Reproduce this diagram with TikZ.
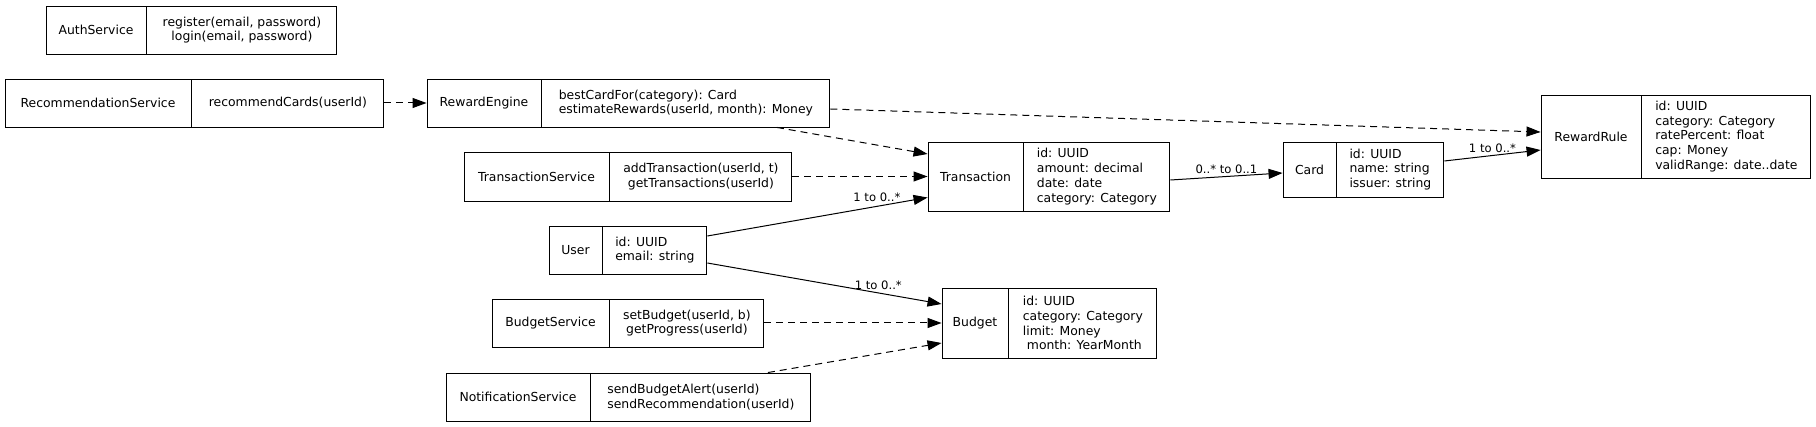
\documentclass[tikz,border=0pt]{standalone}
\usepackage{fontspec}
\setmainfont{DejaVu Sans}
\usetikzlibrary{positioning,arrows.meta}

\begin{document}
\begin{tikzpicture}[x=1pt, y=-1pt,
    cell/.style={draw, line width=0.9pt, inner sep=2pt, font=\fontsize{12.4}{14.8}\selectfont},
    cellc/.style={cell, align=center},
    celll/.style={cell, align=left},
    dep/.style={line width=1pt, dash pattern=on 7pt off 5pt, -{Triangle[length=14pt, width=10pt]}},
    assoc/.style={line width=1pt, -{Triangle[length=14pt, width=10pt]}},
    mult/.style={font=\fontsize{11.6}{13}\selectfont, inner sep=1pt}]
    \useasboundingbox (0,0) rectangle (1816,427);

    % Services
    \node[cellc, minimum width=100pt, minimum height=48pt] (auth) at (96,30) {AuthService};
    \node[cellc, minimum width=190pt, minimum height=48pt, right=0pt of auth] (authM) {register(email, password)\\login(email, password)};

    \node[cellc, minimum width=186pt, minimum height=48pt] (recsvc) at (98,103) {RecommendationService};
    \node[cellc, minimum width=192pt, minimum height=48pt, right=0pt of recsvc] (recsvcM) {recommendCards(userId)};

    \node[cellc, minimum width=114pt, minimum height=48pt] (reweng) at (484,103) {RewardEngine};
    \node[celll, minimum width=288pt, minimum height=48pt, right=0pt of reweng] (rewengM) {bestCardFor(category): Card\\estimateRewards(userId, month): Money};

    \node[cellc, minimum width=145pt, minimum height=49pt] (txnsvc) at (536.5,176.5) {TransactionService};
    \node[cellc, minimum width=182pt, minimum height=49pt, right=0pt of txnsvc] (txnsvcM) {addTransaction(userId, t)\\getTransactions(userId)};

    \node[cellc, minimum width=117pt, minimum height=48pt] (budsvc) at (550.5,323) {BudgetService};
    \node[cellc, minimum width=154pt, minimum height=48pt, right=0pt of budsvc] (budsvcM) {setBudget(userId, b)\\getProgress(userId)};

    \node[cellc, minimum width=144pt, minimum height=48pt] (notif) at (518,397) {NotificationService};
    \node[celll, minimum width=220pt, minimum height=48pt, right=0pt of notif] (notifM) {sendBudgetAlert(userId)\\sendRecommendation(userId)};

    % Entities
    \node[cellc, minimum width=53pt, minimum height=48pt] (user) at (575.5,250) {User};
    \node[celll, minimum width=104pt, minimum height=48pt, right=0pt of user] (userM) {id: UUID\\email: string};

    \node[cellc, minimum width=95pt, minimum height=69pt] (trans) at (975.5,176.5) {Transaction};
    \node[celll, minimum width=146pt, minimum height=69pt, right=0pt of trans] (transM) {id: UUID\\amount: decimal\\date: date\\category: Category};

    \node[cellc, minimum width=66pt, minimum height=70pt] (budget) at (975,323) {Budget};
    \node[celll, minimum width=148pt, minimum height=70pt, right=0pt of budget] (budgetM) {id: UUID\\category: Category\\limit: Money\\\hspace*{4pt}month: YearMonth};

    \node[cellc, minimum width=53pt, minimum height=55pt] (card) at (1309.5,169.5) {Card};
    \node[celll, minimum width=107pt, minimum height=55pt, right=0pt of card] (cardM) {id: UUID\\name: string\\issuer: string};

    \node[cellc, minimum width=100pt, minimum height=83pt] (rrule) at (1591,136.5) {RewardRule};
    \node[celll, minimum width=169pt, minimum height=83pt, right=0pt of rrule] (rruleM) {id: UUID\\category: Category\\ratePercent: float\\cap: Money\\validRange: date..date};

    % Dependencies
    \draw[dep] (recsvcM.east) -- (reweng.west);
    \draw[dep] ([yshift=-6pt]rewengM.east) -- ([yshift=4.5pt]rrule.west);
    \draw[dep] ([xshift=91pt]rewengM.south) -- ([yshift=22.5pt]trans.west);
    \draw[dep] (txnsvcM.east) -- (trans.west);
    \draw[dep] (budsvcM.east) -- (budget.west);
    \draw[dep] ([xshift=67pt]notifM.north) -- ([yshift=-20pt]budget.west);

    % Associations
    \draw[assoc] ([yshift=14pt]userM.east) -- ([yshift=-21pt]trans.west)
        node[mult, pos=0.77, above=3pt] {1 to 0..*};
    \draw[assoc] ([yshift=-13pt]userM.east) -- ([yshift=19pt]budget.west)
        node[mult, pos=0.73, above=2pt] {1 to 0..*};
    \draw[assoc] ([yshift=-3.5pt]transM.east) -- ([yshift=-3.5pt]card.west)
        node[mult, midway, above=1pt] {0..* to 0..1};
    \draw[assoc] ([yshift=8.5pt]cardM.east) -- ([yshift=-13.5pt]rrule.west)
        node[mult, midway, above=1pt] {1 to 0..*};
\end{tikzpicture}
\end{document}
